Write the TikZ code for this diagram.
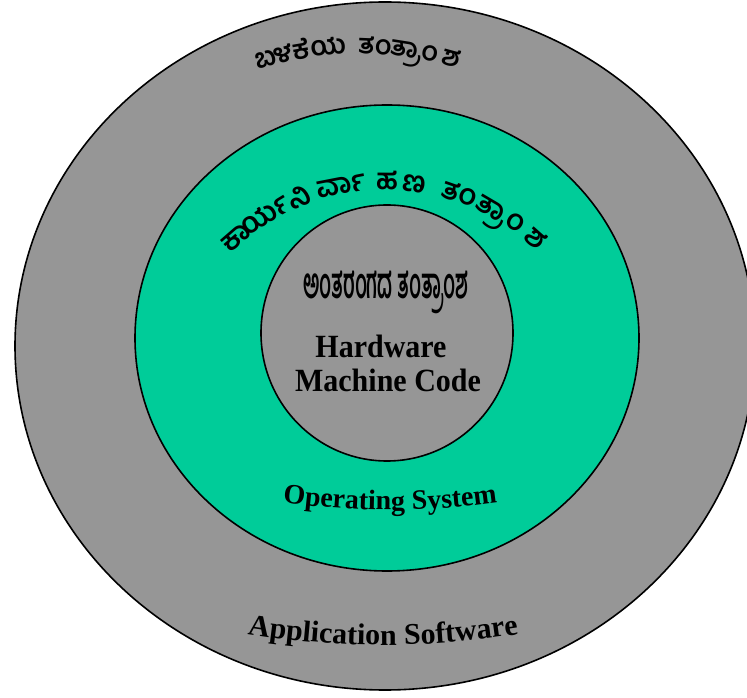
\documentclass[tikz,border=0pt]{standalone}
\usepackage{fontspec}
\setmainfont{Liberation Serif}
\newfontfamily\kanfont[Script=Kannada]{Hind Mysuru}
\usetikzlibrary{positioning,decorations.text}
\definecolor{layergray}{RGB}{150,150,150}
\definecolor{osgreen}{RGB}{0,204,153}

\begin{document}
\begin{tikzpicture}[x=1pt,y=1pt,line width=1.6pt]

\tikzstyle{layer}=[draw=black]
\tikzstyle{kan}=[font=\kanfont\bfseries\fontsize{29}{34}\selectfont,anchor=base,inner sep=0pt]
\tikzstyle{kansmall}=[kan,font=\kanfont\bfseries\fontsize{27}{30}\selectfont]
\tikzstyle{kancore}=[kan,font=\kanfont\bfseries\fontsize{33}{38}\selectfont,xscale=0.58,yscale=1.3]
\tikzstyle{eng}=[font=\bfseries\fontsize{30}{34}\selectfont,anchor=base,inner sep=0pt,yscale=1.08]

\useasboundingbox (0,0) rectangle (747,697);

\coordinate (app) at (385,351);
\coordinate (os) at (387,359);
\coordinate (core) at (387,364);

\draw[layer,fill=layergray] (app) ellipse [x radius=370,y radius=344];
\draw[layer,fill=osgreen] (os) ellipse [x radius=252,y radius=233];
\draw[layer,fill=layergray] (core) ellipse [x radius=126,y radius=128];

% application layer label
\coordinate (topc) at (360,302);
\foreach \s/\a [count=\i] in {ಬ/105.6,ಳ/102.6,ಕೆ/99.6,ಯ/95.1,ತಂ/87.6,ತ್ರಾಂ/81,ಶ/74.7}
    \node[kansmall,rotate=\a-90] (top\i) at ([shift={(\a:341)}]topc) {\s};

% operating system label
\coordinate (osc) at (385,288);
\foreach \s/\a [count=\i] in {ಕಾ/131,ರ್ಯ/121.5,ನಿ/112,ರ್ವಾ/101,ಹ/89.5,ಣ/82.5,ತಂ/71,ತ್ರಾಂ/59.5,ಶ/48.5}
    \node[kan,rotate=\a-90] (os\i) at ([shift={(\a:219)}]osc) {\s};

% hardware
\node[kancore] (corek) at (386,398) {ಅಂತರಂಗದ ತಂತ್ರಾಂಶ};
\node[eng] (hw1) at (381,339) {Hardware};
\node[eng] (hw2) at (388,305) {Machine Code};

\coordinate (osarc) at (390,943);
\path[decorate,decoration={text along path,text align=center,
    text={|\bfseries\fontsize{28}{30}\selectfont|Operating System}}]
    ([shift={(260:756)}]osarc) arc [start angle=260,end angle=280,radius=756];

\coordinate (apparc) at (383,897);
\path[decorate,decoration={text along path,text align=center,
    text={|\bfseries\fontsize{30}{32}\selectfont|Application Software}}]
    ([shift={(258:845)}]apparc) arc [start angle=258,end angle=282,radius=845];

\end{tikzpicture}
\end{document}
